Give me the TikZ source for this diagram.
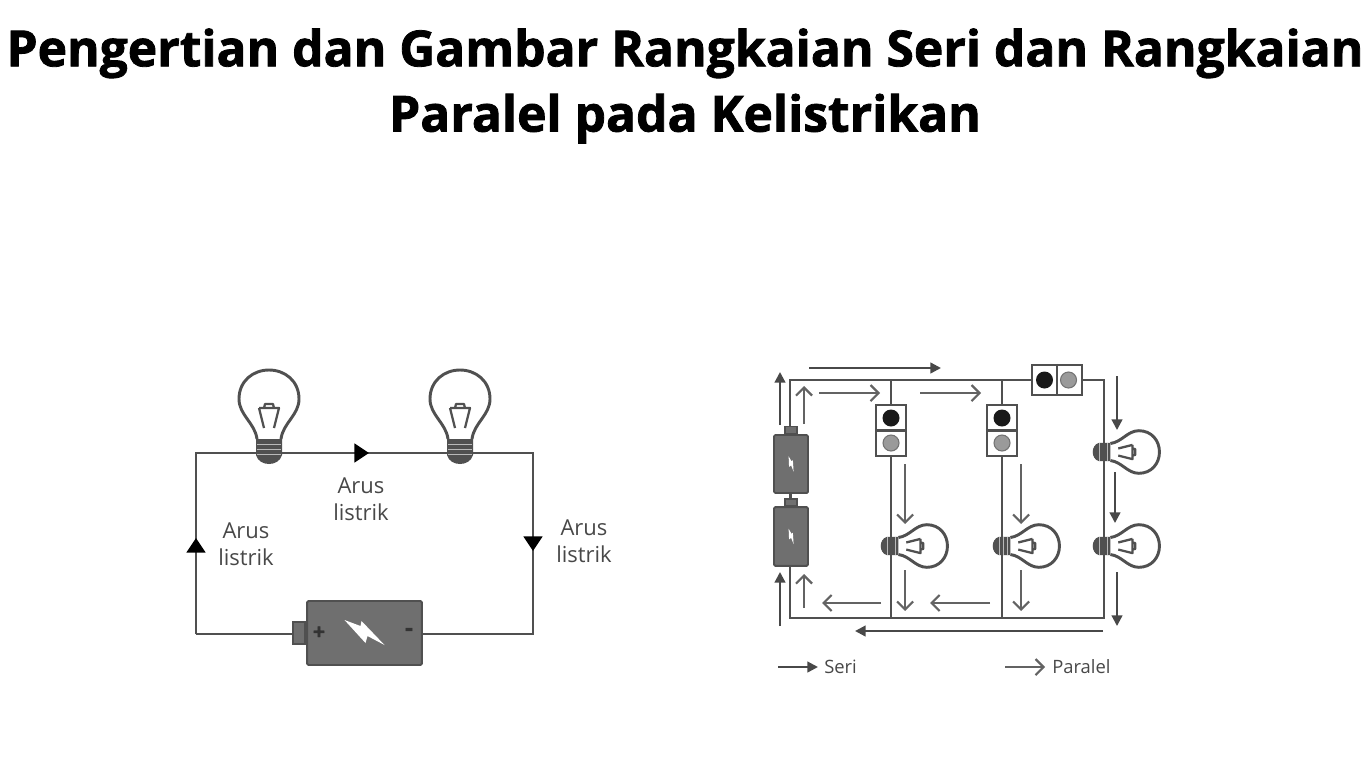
\documentclass[tikz,border=0pt]{standalone}
\usepackage{fontspec}
\setmainfont[BoldFeatures={FakeBold=1.6}]{Open Sans}
\usetikzlibrary{arrows.meta}
\definecolor{wire}{HTML}{505050}
\definecolor{cell}{HTML}{6F6F6F}
\definecolor{lamp}{HTML}{9A9A9A}
\definecolor{ink}{HTML}{484848}
\tikzset{
  x=0.75pt,y=-0.75pt,
  wireline/.style={draw=wire,line width=2.1pt,line join=miter},
  thinwire/.style={draw=wire,line width=1.9pt},
  seriarrow/.style={draw=ink,line width=1.7pt,-{Triangle[length=8pt,width=8pt]}},
  pararrow/.style={draw=ink!85,line width=1.6pt,-{Straight Barb[length=6pt,width=12pt]}},
  midtip/.style={draw=wire,line width=2.1pt,-{Triangle[length=11pt,width=14pt,color=black]}},
  label/.style={text=ink,font=\fontsize{16.5}{20.5}\selectfont,align=center,inner sep=0pt},
  legend/.style={text=ink,font=\fontsize{13.8}{15}\selectfont,inner sep=0pt,anchor=west},
  titletext/.style={text=black,align=center,inner sep=0pt,font=\fontsize{37.3}{49}\selectfont\bfseries},
  cellbody/.style={draw=wire,line width=1.4pt,fill=cell,inner sep=0pt,rounded corners=1pt},
  switchbox/.style={draw=wire,line width=1.6pt,fill=white,inner sep=0pt},
  bulbpic/.pic={
    \draw[draw=wire,line width=2.2pt,fill=white]
      (-12,-26) .. controls (-14,-42) and (-30,-50) .. (-30,-66)
      .. controls (-30,-84) and (-16,-95) .. (0,-95)
      .. controls (16,-95) and (30,-84) .. (30,-66)
      .. controls (30,-50) and (14,-42) .. (12,-26);
    \draw[draw=wire,line width=1.7pt,line join=round]
      (-10,-57) -- (10,-57) -- (5,-37) (-10,-57) -- (-5,-37) (-5,-57) -- (-4,-61) -- (4,-61) -- (5,-57);
    \fill[wire] (-13,-26) -- (13,-26) -- (13,-10) .. controls (10,2) and (-10,2) .. (-13,-10) -- cycle;
    \draw[white!60!wire,line width=.6pt] (-12,-21) -- (12,-21) (-12,-16) -- (12,-16) (-12,-11) -- (12,-11);
  },
  boltpic/.pic={
    \fill[white] (-20,-13) -- (-4,-7) -- (-3,-12) -- (20,12) -- (3,3) -- (1,10) -- cycle;
  },
}
\begin{document}
\begin{tikzpicture}
\useasboundingbox (0,0) rectangle (1366,768);
\node[titletext] (title) at (685,86) {Pengertian dan Gambar Rangkaian Seri dan Rangkaian\\Paralel pada Kelistrikan};

% --- series circuit ---
\coordinate (tl) at (196,453);
\coordinate (tr) at (533,453);
\coordinate (bl) at (196,634);
\coordinate (br) at (533,634);
\coordinate (lampA) at (269,465);
\coordinate (lampB) at (460,465);
\coordinate (tipTop) at (369,453);
\coordinate (tipLeft) at (196,538);
\coordinate (tipRight) at (533,551);
\node[cellbody,minimum width=86pt,minimum height=48pt] (bat) at (364.5,633) {};
\node[draw=wire,line width=1.4pt,fill=cell,inner sep=0pt,minimum width=9pt,minimum height=17pt,anchor=east] (batcap) at (bat.west) {};
\draw[wireline] (bl) -- (tl) -- (tr) -- (br) -- (bat.east |- br);
\draw[wireline] (bl) -- (batcap.west |- bl);
\draw[midtip] (lampA) ++(0,-12) -- (tipTop);
\draw[midtip] (tr) -- (tipRight);
\draw[midtip] (bl) -- (tipLeft);
\pic at (lampA) {bulbpic};
\pic at (lampB) {bulbpic};
\pic at (bat.center) {boltpic};
\node[text=black!80,font=\fontsize{16}{16}\bfseries\selectfont,inner sep=0pt] (plus) at (319,633) {+};
\node[text=black!80,font=\fontsize{18}{18}\bfseries\selectfont,inner sep=0pt] (minus) at (409,632) {-};
\node[label] (arusA) at (361,499) {Arus\\listrik};
\node[label] (arusB) at (246,544) {Arus\\listrik};
\node[label] (arusC) at (584,541) {Arus\\listrik};

% --- mixed circuit ---
\coordinate (ra) at (790,380);
\coordinate (rb) at (1104,380);
\coordinate (rc) at (1104,618);
\coordinate (rd) at (790,618);
\coordinate (m1t) at (891,380);
\coordinate (m1b) at (891,618);
\coordinate (m2t) at (1002,380);
\coordinate (m2b) at (1002,618);
\draw[thinwire] (ra) -- (rb) -- (rc) -- (rd) -- cycle;
\draw[thinwire] (m1t) -- (m1b);
\draw[thinwire] (m2t) -- (m2b);

\node[cellbody,minimum width=25.5pt,minimum height=43.5pt] (batT) at (791,464) {};
\node[cellbody,minimum width=25.5pt,minimum height=44pt] (batB) at (791,536.5) {};
\node[draw=wire,line width=1pt,fill=cell,inner sep=0pt,minimum width=9pt,minimum height=5pt,anchor=south] (capT) at (batT.north) {};
\node[draw=wire,line width=1pt,fill=cell,inner sep=0pt,minimum width=9pt,minimum height=5pt,anchor=south] (capB) at (batB.north) {};
\draw[thinwire] (batT.south) -- (capB.north);
\pic[scale=.34,rotate=-40] at (batT.center) {boltpic};
\pic[scale=.34,rotate=-40] at (batB.center) {boltpic};

\foreach \n/\cx in {one/891,two/1002}{
  \node[switchbox,minimum width=22.5pt,minimum height=38pt] (sw\n) at (\cx,430.5) {};
  \draw[draw=wire,line width=1.6pt] (sw\n.west) -- (sw\n.east);
  \fill[black!90] (\cx,418) circle[radius=8.5];
  \fill[lamp,draw=black!55,line width=.8pt] (\cx,443) circle[radius=8];
}
\node[switchbox,minimum width=37.5pt,minimum height=22.5pt] (swtop) at (1057,380) {};
\draw[draw=wire,line width=1.6pt] (swtop.north) -- (swtop.south);
\fill[black!90] (1044.5,380) circle[radius=8.5];
\fill[lamp,draw=black!55,line width=.8pt] (1068.5,380) circle[radius=8];

\foreach \n/\bx/\by in {a/880/546,b/992/546,c/1092/452,d/1092/546}{
  \coordinate (small\n) at (\bx,\by);
  \pic[rotate=-90,scale=.71] at (small\n) {bulbpic};
}
\draw[thinwire] (891,530) -- (891,562);
\draw[thinwire] (1002,530) -- (1002,562);
\draw[thinwire] (1104,436) -- (1104,468);
\draw[thinwire] (1104,530) -- (1104,562);

\foreach \i/\ax/\ay/\bx/\by in {1/809/368/941/368,2/780/425/780/372,3/780/626/780/572,4/1117/376/1117/430,5/1115/472/1115/523,6/1117/572/1117/626,7/1103/631/855/631,8/778/667/818/667}{
  \coordinate (sa\i) at (\ax,\ay);
  \coordinate (sb\i) at (\bx,\by);
  \draw[seriarrow] (sa\i) -- (sb\i);
}
\foreach \i/\ax/\ay/\bx/\by in {1/804/424/804/386,2/804/608/804/574,3/819/393/880/393,4/920/393/981/393,5/905/464/905/524,6/905/570/905/611,7/1021/464/1021/524,8/1021/570/1021/611,9/881/603/822/603,10/990/603/930/603,11/1005/667/1045/667}{
  \coordinate (pa\i) at (\ax,\ay);
  \coordinate (pb\i) at (\bx,\by);
  \draw[pararrow] (pa\i) -- (pb\i);
}
\node[legend] (seri) at (824,667) {Seri};
\node[legend] (paralel) at (1052,667) {Paralel};
\end{tikzpicture}
\end{document}
